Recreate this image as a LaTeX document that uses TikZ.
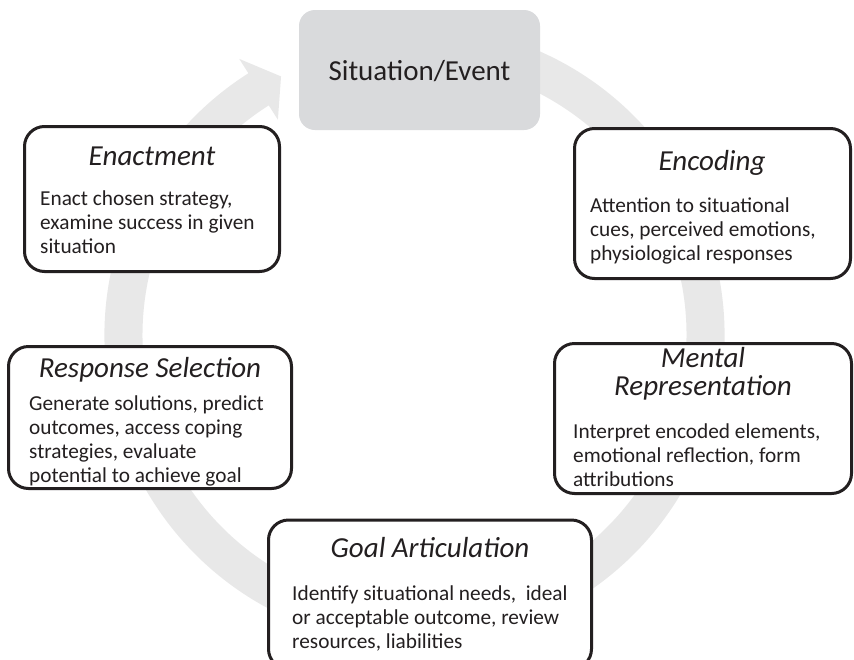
\documentclass[tikz,border=0pt]{standalone}
\usepackage{fontspec}
\setmainfont{Carlito}
\definecolor{ink}{RGB}{35,31,32}
\definecolor{ringgray}{RGB}{232,232,232}
\definecolor{sitgray}{RGB}{217,218,220}
\tikzset{
  stepbox/.style={draw=ink, line width=3pt, rounded corners=20pt, fill=white, inner sep=0pt},
  sitbox/.style={fill=sitgray, rounded corners=16pt, inner sep=0pt},
  ttl/.style={font=\fontsize{29}{28}\selectfont\itshape, text=ink, inner sep=0pt, anchor=base},
  bdy/.style={font=\fontsize{21.3}{24}\selectfont, text=ink, inner sep=0pt, anchor=base west},
}
\begin{document}
\begin{tikzpicture}[x=1pt,y=-1pt]
\useasboundingbox (0,0) rectangle (854,659);
\clip (0,0) rectangle (854,659);
\fill[white] (0,0) rectangle (854,659);
% circular arrow
\begin{scope}[shift={(414.5,335)}, yscale=-1]
  \fill[ringgray] (75:310) arc[start angle=75, end angle=-237.6, radius=310]
    -- (-237.6:327) -- (-242.7:291) -- (-237.6:255) -- (-237.6:272)
    arc[start angle=-237.6, end angle=75, radius=272] -- cycle;
\end{scope}
% situation
\node[sitbox, minimum width=241pt, minimum height=120pt] (sit) at (419.5,70) {};
\node[font=\fontsize{29}{30}\selectfont, text=ink, inner sep=0pt, anchor=base] (sittxt) at (419.5,80) {Situation/Event};
% enactment
\node[stepbox, minimum width=255pt, minimum height=145pt] (enact) at (152,199) {};
\node[ttl] (enactT) at (152,165) {Enactment};
\node[bdy] (enactB) at (40,205) {\vtop{\hbox{Enact chosen strategy,}\hbox{examine success in given}\hbox{situation}}};
% encoding
\node[stepbox, minimum width=276pt, minimum height=150pt] (enc) at (712.5,203.5) {};
\node[ttl] (encT) at (712,170) {Encoding};
\node[bdy] (encB) at (590,212) {\vtop{\hbox{Attention to situational}\hbox{cues, perceived emotions,}\hbox{physiological responses}}};
% response selection
\node[stepbox, minimum width=283pt, minimum height=142pt] (resp) at (150,417.5) {};
\node[ttl] (respT) at (150,377) {Response Selection};
\node[bdy] (respB) at (29,410) {\vtop{\hbox{Generate solutions, predict}\hbox{outcomes, access coping}\hbox{strategies, evaluate}\hbox{potential to achieve goal}}};
% mental representation
\node[stepbox, minimum width=297pt, minimum height=150pt] (ment) at (703,418.5) {};
\node[ttl] (mentT) at (703,367) {\vtop{\halign{\hfil#\hfil\cr Mental\cr Representation\cr}}};
\node[bdy] (mentB) at (573,438) {\vtop{\hbox{Interpret encoded elements,}\hbox{emotional reflection, form}\hbox{attributions}}};
% goal articulation
\node[stepbox, minimum width=323pt, minimum height=149pt] (goal) at (430,594.5) {};
\node[ttl] (goalT) at (430,557) {Goal Articulation};
\node[bdy] (goalB) at (292,600) {\vtop{\hbox{Identify situational needs, \ ideal}\hbox{or acceptable outcome, review}\hbox{resources, liabilities}}};
\end{tikzpicture}
\end{document}
